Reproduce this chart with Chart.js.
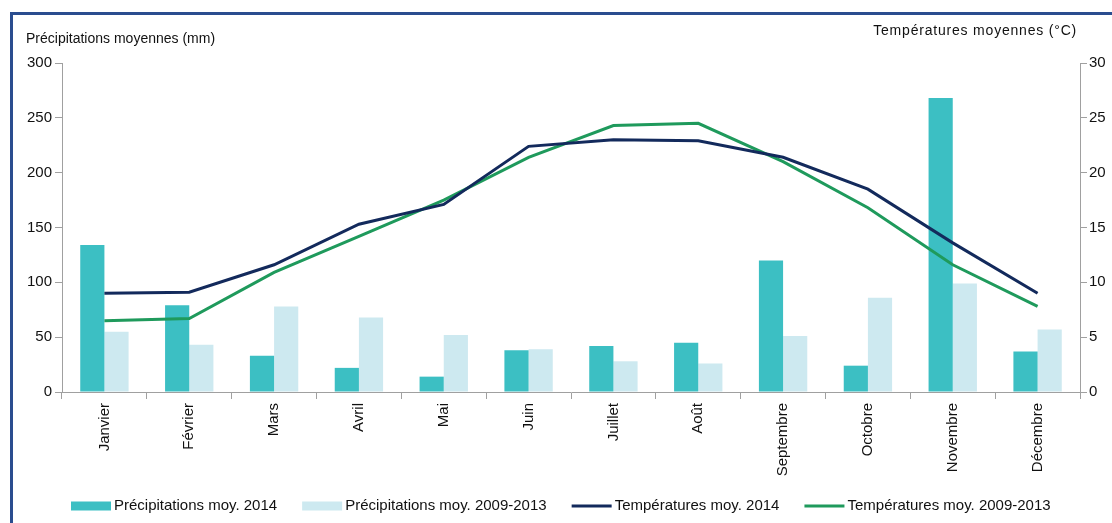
<!DOCTYPE html>
<html><head><meta charset="utf-8">
<script src="https://cdn.jsdelivr.net/npm/chart.js@4.4.1/dist/chart.umd.min.js"></script>
<style>
html,body{margin:0;padding:0;background:#fff;overflow:hidden}
#wrap{position:relative;width:1112px;height:523px;overflow:hidden}
#frame{position:absolute;left:10px;top:12px;width:1200px;height:600px;border:3px solid #2a4d8f;box-sizing:border-box}
canvas{position:absolute;left:0;top:0}
</style></head><body>
<div id="wrap"><div id="frame"></div><canvas id="c" width="1112" height="523"></canvas></div>
<script>
const months = ['Janvier','Février','Mars','Avril','Mai','Juin','Juillet','Août','Septembre','Octobre','Novembre','Décembre'];
const precip2014 = [134, 79, 33, 22, 14, 38, 42, 45, 120, 24, 268, 37];
const precip0913 = [55, 43, 78, 68, 52, 39, 28, 26, 51, 86, 99, 57];
const temp2014 = [9.0, 9.1, 11.6, 15.3, 17.1, 22.4, 23.0, 22.9, 21.4, 18.5, 13.6, 9.0];
const temp0913 = [6.5, 6.7, 10.9, 14.2, 17.5, 21.4, 24.3, 24.5, 21.0, 16.8, 11.6, 7.8];
const leftTitle = 'Précipitations moyennes (mm)';
const rightTitle = 'Températures moyennes (°C)';
const seriesLabels = ['Précipitations moy. 2014','Précipitations moy. 2009-2013','Températures moy. 2014','Températures moy. 2009-2013'];

const FONT = '"Liberation Sans", Arial, sans-serif';
const colTeal = '#3cbfc3', colLight = '#cde9f0', colNavy = '#132a5c', colGreen = '#1f9a5c';
const axisCol = '#a0a0a0';

const overlay = {
  id: 'overlay',
  afterDraw(chart) {
    const ctx = chart.ctx;
    ctx.save();
    ctx.fillStyle = '#111';
    ctx.textBaseline = 'middle';
    ctx.font = '14px ' + FONT;
    ctx.textAlign = 'left';
    ctx.fillText(leftTitle, 26, 39);
    ctx.textAlign = 'right';
    ctx.letterSpacing = '0.8px';
    ctx.fillText(rightTitle, 1077, 31);
    ctx.letterSpacing = '0px';
    // legend (bars first, then lines)
    ctx.font = '15px ' + FONT;
    ctx.textAlign = 'left';
    const ds = chart.data.datasets;
    const orderIdx = [2, 3, 0, 1];
    let x = 71; const y = 506;
    orderIdx.forEach(i => {
      const d = ds[i];
      const isBar = d.type === 'bar';
      ctx.fillStyle = isBar ? d.backgroundColor : d.borderColor;
      if (isBar) ctx.fillRect(x, y - 4.5, 40, 9);
      else ctx.fillRect(x, y - 1.5, 40, 3);
      x += 43;
      ctx.fillStyle = '#111';
      ctx.fillText(d.label, x, y);
      x += ctx.measureText(d.label).width + 25;
    });
    ctx.restore();
  }
};

new Chart(document.getElementById('c'), {
  data: {
    labels: months,
    datasets: [
      { type: 'line', label: seriesLabels[2], data: temp2014, yAxisID: 'y1', borderColor: colNavy, backgroundColor: colNavy, borderWidth: 3, pointRadius: 0, tension: 0, order: 0 },
      { type: 'line', label: seriesLabels[3], data: temp0913, yAxisID: 'y1', borderColor: colGreen, backgroundColor: colGreen, borderWidth: 3, pointRadius: 0, tension: 0, order: 0 },
      { type: 'bar', label: seriesLabels[0], data: precip2014, yAxisID: 'y', backgroundColor: colTeal, categoryPercentage: 0.57, barPercentage: 1.0, order: 1 },
      { type: 'bar', label: seriesLabels[1], data: precip0913, yAxisID: 'y', backgroundColor: colLight, categoryPercentage: 0.57, barPercentage: 1.0, order: 1 }
    ]
  },
  options: {
    responsive: false,
    animation: false,
    layout: { padding: { top: 63, left: 0, right: 0, bottom: 0 } },
    plugins: { legend: { display: false }, tooltip: { enabled: false } },
    scales: {
      x: {
        offset: true,
        grid: { drawOnChartArea: false, drawTicks: true, tickLength: 7, color: axisCol, offset: true },
        border: { display: true, color: axisCol },
        ticks: { autoSkip: false, maxRotation: 90, minRotation: 90, color: '#111', font: { family: FONT, size: 15 }, padding: 4 },
        afterFit(s) { s.height = 131; }
      },
      y: {
        position: 'left', min: 0, max: 300,
        grid: { drawOnChartArea: false, drawTicks: true, tickLength: 7, color: axisCol },
        border: { display: true, color: axisCol },
        ticks: { stepSize: 50, color: '#111', font: { family: FONT, size: 15 }, padding: 3 },
        afterFit(s) { s.width = 62; }
      },
      y1: {
        position: 'right', min: 0, max: 30,
        grid: { drawOnChartArea: false, drawTicks: true, tickLength: 7, color: axisCol },
        border: { display: true, color: axisCol },
        ticks: { stepSize: 5, color: '#111', font: { family: FONT, size: 15 }, padding: 2 },
        afterFit(s) { s.width = 32; }
      }
    }
  },
  plugins: [overlay]
});
</script>
</body></html>
